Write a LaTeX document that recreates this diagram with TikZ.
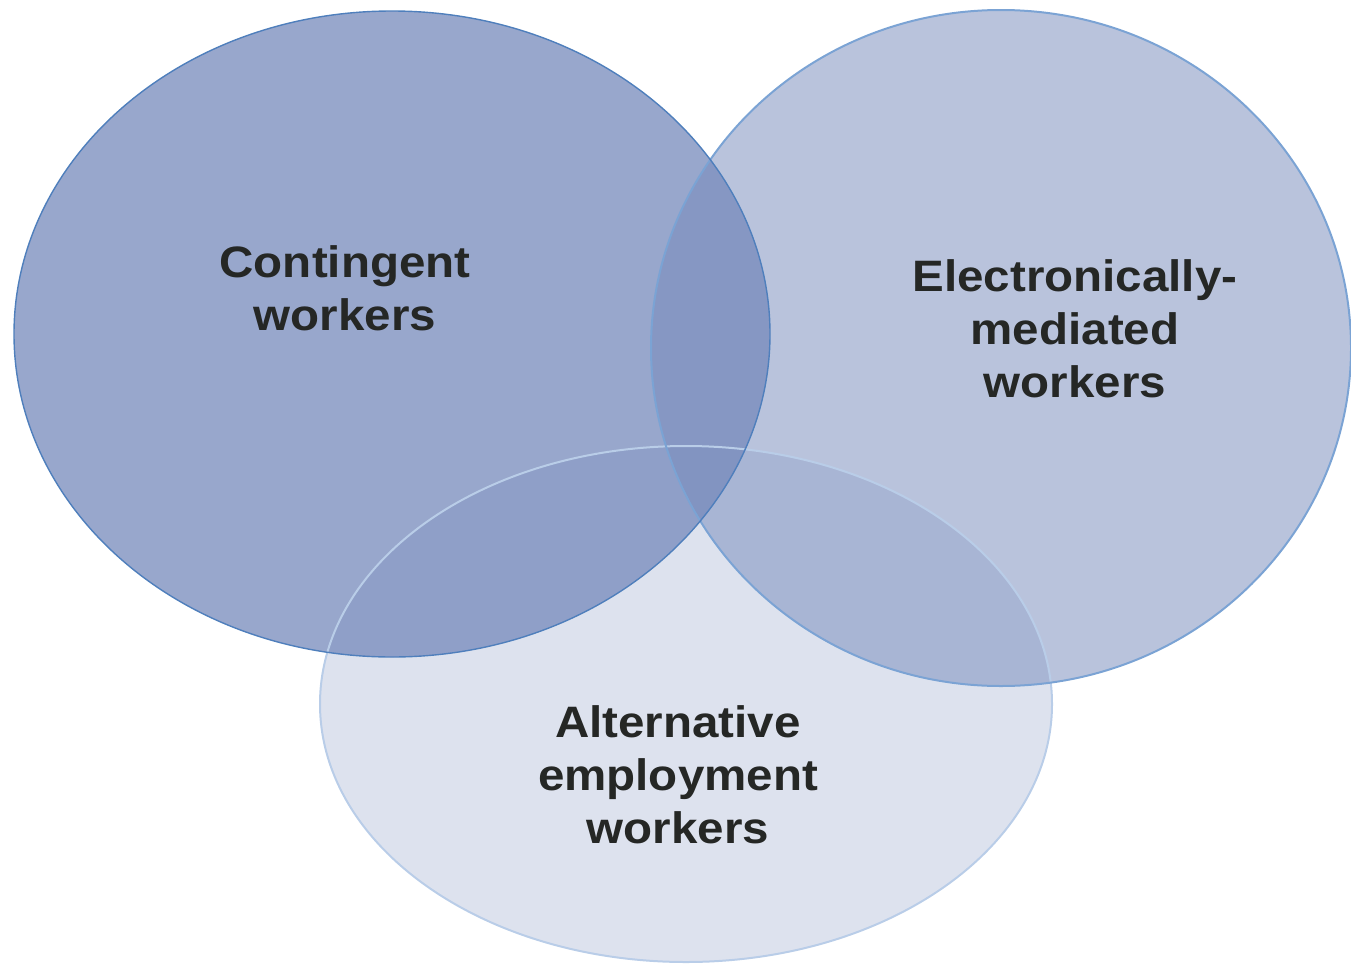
\documentclass[tikz,border=0pt]{standalone}
\usepackage{fontspec}
\setmainfont{Liberation Sans}
\usepackage{graphicx}
\definecolor{basefill}{HTML}{7488BA}
\definecolor{edgeA}{HTML}{4F7FBC}
\definecolor{edgeB}{HTML}{7BA3D4}
\definecolor{edgeC}{HTML}{B9CDE8}
\definecolor{labeltext}{HTML}{252725}
\newcommand\widetext[1]{\scalebox{1.08}[1]{#1}}
\tikzset{
  setfill/.style={fill=basefill, fill opacity=#1, draw=none},
  labelnode/.style={font=\fontsize{44}{53}\selectfont\bfseries, text=labeltext, align=center, inner sep=0pt, anchor=base}
}
\begin{document}
\begin{tikzpicture}[x=1pt,y=-1pt]
\useasboundingbox (0,0) rectangle (1351,964);
\clip (0,0) rectangle (1351,964);
% fills
\fill[setfill=0.74] (392,334) ellipse [x radius=378, y radius=323];
\fill[setfill=0.5] (1001,348) ellipse [x radius=350, y radius=338];
\fill[setfill=0.245] (686,704) ellipse [x radius=366, y radius=258];
% borders
\draw[edgeC, line width=2pt] (686,704) ellipse [x radius=366, y radius=258];
\draw[edgeB, line width=2pt] (1001,348) ellipse [x radius=350, y radius=338];
\draw[edgeA, line width=1.4pt] (392,334) ellipse [x radius=378, y radius=323];
% labels (base anchor = baseline of last line)
\node[labelnode] (contingent) at (345,330) {\widetext{Contingent}\\\widetext{workers}};
\node[labelnode] (electronic) at (1075,397) {\widetext{Electronically-}\\\widetext{mediated}\\\widetext{workers}};
\node[labelnode] (alternative) at (678,843) {\widetext{Alternative}\\\widetext{employment}\\\widetext{workers}};
\end{tikzpicture}
\end{document}
